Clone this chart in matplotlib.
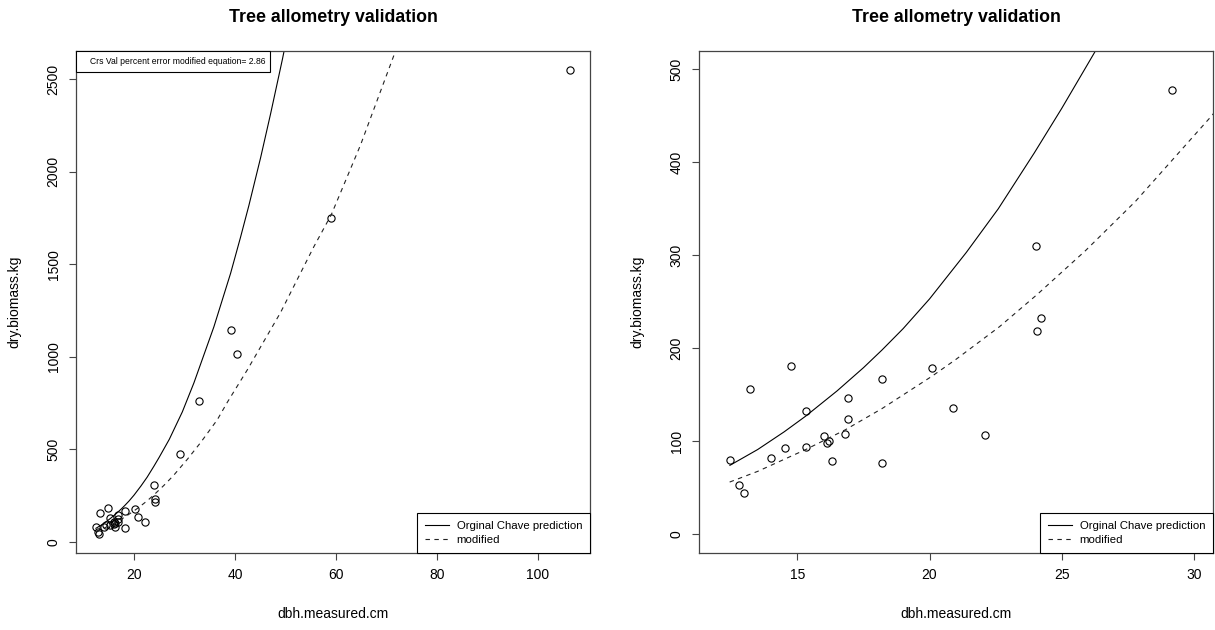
import matplotlib.pyplot as plt
from matplotlib.patches import Rectangle

plt.rcParams['font.family'] = ['Liberation Sans', 'DejaVu Sans']

# measured trees
dbh = [12.44, 13.22, 12.81, 13.0, 14.01, 14.54, 15.32, 15.32, 16.01, 16.11,
       16.21, 16.32, 16.8, 16.91, 16.91, 18.2, 18.2, 20.88, 22.09, 14.76,
       20.1, 24.08, 24.2, 24.03, 29.16, 32.87, 39.28, 40.34, 59.1, 106.47]
biomass = [80, 156, 53, 44, 82, 93, 132, 94, 106, 98,
           100, 79, 108, 146, 124, 167, 76, 136, 107, 181,
           179, 218, 233, 310, 478, 760, 1146, 1017, 1750, 2552]

# prediction lines
chave_dbh = [12.45, 13.5, 14.5, 15.32, 16.5, 17.5, 18.2, 19.0, 20.0, 21.39,
             22.6, 23.96, 25.0, 25.97, 27.0, 29.58, 31.88, 35.84, 39.15,
             41.1, 42.77, 45.1, 47.07, 49.4, 51.0]
chave_pred = [74, 91, 110, 127, 154, 179, 198, 221, 253, 303,
              350, 410, 458, 505, 555, 703, 860, 1163, 1452,
              1645, 1818, 2077, 2313, 2606, 2820]
mod_dbh = [12.44, 13.5, 15.32, 16.8, 18.2, 20.1, 21.0, 22.64, 24.08, 25.9,
           27.79, 30.64, 33.2, 36.5, 38.5, 42.46, 49.05, 55.64, 59.1, 64.9,
           71.8, 73.0]
mod_pred = [56, 67.5, 91, 112, 135, 170, 188, 223, 258, 305,
            358, 449, 537, 660, 755, 930, 1240, 1595, 1768, 2145,
            2650, 2730]

fig = plt.figure(figsize=(12.15, 6.3), dpi=100)
ax1 = fig.add_axes([76/1215, 77.3/630, 514/1215, 502/630])
ax2 = fig.add_axes([699/1215, 77.3/630, 514/1215, 502/630])

for ax in (ax1, ax2):
    ax.plot(dbh, biomass, 'o', mfc='none', mec='black', ms=5.2, mew=0.8,
            linestyle='none')
    ax.plot(chave_dbh, chave_pred, color='black', lw=0.8,
            label='Orginal Chave prediction')
    ax.plot(mod_dbh, mod_pred, color='#222222', lw=0.8, dashes=(4, 4),
            label='modified')
    ax.set_title('Tree allometry validation', fontsize=12.8,
                 fontweight='bold', pad=21)
    ax.set_xlabel('dbh.measured.cm', fontsize=10, labelpad=18)
    ax.set_ylabel('dry.biomass.kg', fontsize=10, labelpad=18)
    ax.tick_params(direction='out', length=5, width=0.8, labelsize=10,
                   color='#444444', pad=6)
    for s in ax.spines.values():
        s.set_color('#444444')
        s.set_linewidth(0.9)
    leg = ax.legend(loc='lower right', borderaxespad=0, fancybox=False,
                    fontsize=8.2, handlelength=2.1, handletextpad=0.7,
                    borderpad=0.7, labelspacing=0.3, framealpha=1)
    leg.get_frame().set_edgecolor('black')
    leg.get_frame().set_linewidth(0.8)

ax1.set_xlim(8.5, 110.4)
ax1.set_ylim(-58, 2655)
ax1.set_xticks([20, 40, 60, 80, 100])
ax1.set_yticks([0, 500, 1000, 1500, 2000, 2500])

ax2.set_xlim(11.28, 30.72)
ax2.set_ylim(-20, 520)
ax2.set_xticks([15, 20, 25, 30])
ax2.set_yticks([0, 100, 200, 300, 400, 500])

for ax in (ax1, ax2):
    plt.setp(ax.get_yticklabels(), rotation=90, va='center')

# cross validation note, boxed in the top left corner
box_w = 194 / 514
box_h = 21 / 502
ax1.add_patch(Rectangle((0, 1 - box_h), box_w, box_h, transform=ax1.transAxes,
                        facecolor='white', edgecolor='black', lw=0.8,
                        zorder=5, clip_on=False))
ax1.text(189 / 514, 1 - box_h / 2,
         'Crs Val percent error modified equation= 2.86',
         transform=ax1.transAxes, ha='right', va='center', fontsize=6.2,
         zorder=6)

fig.savefig('out.png', dpi=100)
